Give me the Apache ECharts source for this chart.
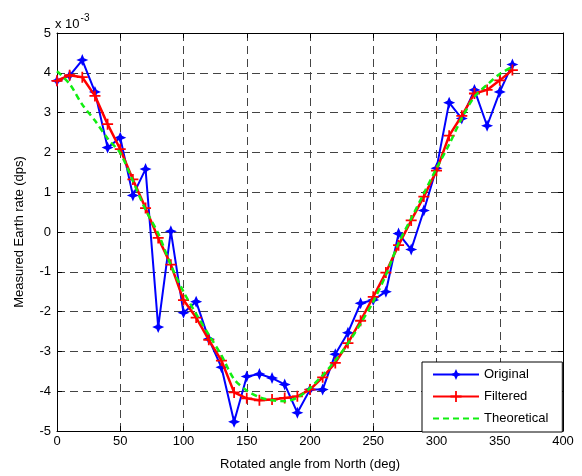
<!DOCTYPE html>
<html>
<head>
<meta charset="utf-8">
<script src="https://cdn.jsdelivr.net/npm/echarts@6/dist/echarts.min.js"></script>
<style>
  html, body { margin: 0; padding: 0; background: #fff; }
  #chart { width: 582px; height: 476px; }
</style>
</head>
<body>
<div id="chart"></div>
<script>
// Rotation angle (deg) for each measurement
const angles = [0,10,20,30,40,50,60,70,80,90,100,110,120,130,140,150,160,170,180,
  190,200,210,220,230,240,250,260,270,280,290,300,310,320,330,340,350,360];

// Earth rate, in units of 1e-3 dps
const original = [3.80,3.93,4.32,3.52,2.12,2.37,0.92,1.58,-2.39,0.02,-2.03,-1.75,-2.69,-3.40,-4.77,
  -3.63,-3.57,-3.67,-3.83,-4.54,-3.96,-3.96,-3.07,-2.53,-1.79,-1.71,-1.50,-0.04,-0.44,0.54,
  1.60,3.25,2.85,3.57,2.67,3.52,4.21];

const filtered = [3.80,3.94,3.89,3.42,2.71,2.08,1.32,0.60,-0.15,-0.82,-1.71,-2.15,-2.71,-3.23,-4.03,
  -4.18,-4.23,-4.21,-4.17,-4.13,-3.96,-3.65,-3.29,-2.79,-2.23,-1.63,-1.02,-0.33,0.29,0.89,
  1.54,2.42,2.92,3.48,3.57,3.81,4.07];

const theoretical = [4.04,3.72,3.20,2.80,2.35,1.98,1.28,0.56,-0.04,-0.83,-1.50,-2.06,-2.58,-3.10,-3.70,
  -3.98,-4.15,-4.23,-4.25,-4.16,-3.92,-3.60,-3.23,-2.80,-2.30,-1.75,-1.08,-0.28,0.34,0.97,
  1.60,2.20,2.86,3.40,3.70,3.97,4.15];

const xTicks = { min: 0, max: 400, interval: 50 };
const yTicks = { min: -5, max: 5, interval: 1 };

const pair = (xs, ys) => xs.map((x, i) => [x, ys[i]]);

const FONT = 'Liberation Sans, Arial, sans-serif';
const GREEN = '#11ee11';
const starPath = 'path://M0,-1 L0.3,-0.3 L1,0 L0.3,0.3 L0,1 L-0.3,0.3 L-1,0 L-0.3,-0.3 Z';
const plusPath = 'path://M-1,-0.16 L-0.16,-0.16 L-0.16,-1 L0.16,-1 L0.16,-0.16 L1,-0.16 L1,0.16 L0.16,0.16 L0.16,1 L-0.16,1 L-0.16,0.16 L-1,0.16 Z';

const gridDash = { show: true, lineStyle: { color: '#444', width: 1, type: [8, 5] } };
const boxLine = { show: true, onZero: false, lineStyle: { color: '#000', width: 1 } };
const inTick = { show: true, inside: true, length: 5, lineStyle: { color: '#000' } };

const chart = echarts.init(document.getElementById('chart'));
chart.setOption({
  animation: false,
  backgroundColor: '#fff',
  textStyle: { fontFamily: FONT },
  grid: { left: 57, right: 19, top: 33, bottom: 43 },
  xAxis: [{
    type: 'value', min: xTicks.min, max: xTicks.max, interval: xTicks.interval,
    position: 'bottom',
    name: 'Rotated angle from North (deg)', nameLocation: 'middle', nameGap: 27,
    nameTextStyle: { fontSize: 13, color: '#000', fontFamily: FONT },
    axisLine: boxLine, axisTick: inTick,
    axisLabel: { fontSize: 13, color: '#000', margin: 4, fontFamily: FONT },
    splitLine: gridDash
  }, {
    type: 'value', min: xTicks.min, max: xTicks.max, interval: xTicks.interval,
    position: 'top',
    axisLine: boxLine, axisTick: inTick,
    axisLabel: { show: false }, splitLine: { show: false }
  }],
  yAxis: [{
    type: 'value', min: yTicks.min, max: yTicks.max, interval: yTicks.interval,
    position: 'left',
    name: 'Measured Earth rate (dps)', nameLocation: 'middle', nameGap: 31,
    nameTextStyle: { fontSize: 13, color: '#000', fontFamily: FONT },
    axisLine: boxLine, axisTick: inTick,
    axisLabel: { fontSize: 13, color: '#000', margin: 6, fontFamily: FONT },
    splitLine: gridDash
  }, {
    type: 'value', min: yTicks.min, max: yTicks.max, interval: yTicks.interval,
    position: 'right',
    axisLine: boxLine, axisTick: inTick,
    axisLabel: { show: false }, splitLine: { show: false }
  }],
  legend: {
    orient: 'vertical', left: 422, top: 362,
    padding: [6, 14, 7, 10], itemGap: 9,
    itemWidth: 46, itemHeight: 14,
    backgroundColor: '#fff', borderColor: '#000', borderWidth: 1, borderRadius: 0,
    textStyle: { fontSize: 13, color: '#000', fontFamily: FONT },
    data: ['Original', 'Filtered', 'Theoretical']
  },
  graphic: [{
    type: 'text', left: 55, top: 13,
    style: {
      text: '{a|x 10}{b|-3}',
      rich: {
        a: { fontSize: 13, fontFamily: FONT, fill: '#000', verticalAlign: 'bottom', lineHeight: 18 },
        b: { fontSize: 10, fontFamily: FONT, fill: '#000', verticalAlign: 'top', lineHeight: 18, padding: [0, 0, 10, 1] }
      }
    }
  }],
  series: [{
    name: 'Original', type: 'line', data: pair(angles, original),
    color: '#0000ff',
    lineStyle: { color: '#0000ff', width: 2 },
    symbol: starPath, symbolSize: 12, showAllSymbol: true,
    itemStyle: { color: '#0000ff' }, z: 3
  }, {
    name: 'Filtered', type: 'line', data: pair(angles, filtered),
    color: '#ff0000',
    lineStyle: { color: '#ff0000', width: 2.5 },
    symbol: plusPath, symbolSize: 11, showAllSymbol: true,
    itemStyle: { color: '#ff0000' }, z: 4
  }, {
    // dashed reference curve, no markers
    name: 'Theoretical', type: 'line', data: pair(angles, theoretical),
    color: GREEN, smooth: 0.3,
    lineStyle: { color: GREEN, width: 2.5, type: [6, 4], opacity: 1 },
    symbol: 'circle', showSymbol: false,
    itemStyle: { color: GREEN, opacity: 0 }, z: 5
  }]
});
</script>
</body>
</html>
